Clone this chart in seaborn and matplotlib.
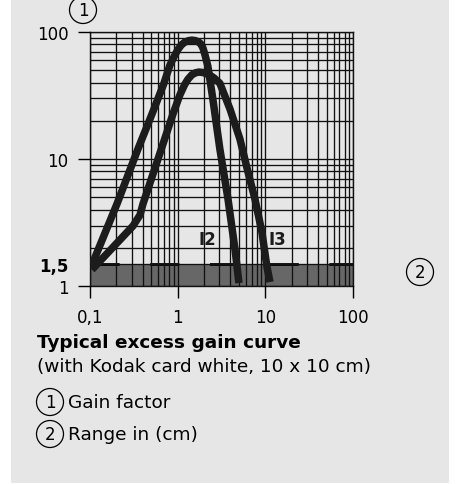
import matplotlib
matplotlib.use("Agg")
import matplotlib.pyplot as plt
from matplotlib.patches import Rectangle
from matplotlib.ticker import LogLocator, NullFormatter
import seaborn as sns

# Gain curves (range in cm, gain factor)
i2_x = [0.105, 0.203, 0.352, 0.509, 0.692, 0.817, 0.92, 1.01, 1.1, 1.2, 1.33,
        1.456, 1.6, 1.75, 1.85, 1.94, 2.05, 2.21, 2.52, 3.03, 3.75, 4.5, 5.0]
i2_y = [1.47, 4.44, 12.0, 22.6, 38.9, 55.0, 65.0, 73.0, 79.0, 83.0, 85.5,
        86.3, 85.5, 83.0, 80.0, 75.0, 66.0, 53.9, 29.7, 12.0, 4.86, 1.97, 1.06]

i3_x = [0.105, 0.309, 0.372, 0.402, 0.596, 0.883, 1.06, 1.2, 1.31, 1.45,
        1.6, 1.75, 1.95, 2.3, 2.6, 3.03, 3.95, 5.13, 6.34, 7.61, 9.14, 10.4,
        11.3]
i3_y = [1.35, 2.98, 3.64, 4.44, 10.0, 22.6, 32.0, 38.5, 42.5, 46.0,
        47.8, 48.4, 48.0, 46.0, 43.5, 39.5, 24.8, 14.4, 7.92, 4.86, 2.67, 1.44,
        1.08]

x_ticks = [0.1, 1, 10, 100]
x_labels = ["0,1", "1", "10", "100"]
y_ticks = [1, 1.5, 10, 100]
y_labels = ["1", "1,5", "10", "100"]
min_gain = 1.5
curve_names = ["I2", "I3"]
name_pos = [(2.21, 2.35), (13.9, 2.35)]

sns.set_style("white")
plt.rcParams["font.family"] = ["DejaVu Sans"]
plt.rcParams["text.color"] = "black"
plt.rcParams["xtick.color"] = "black"
plt.rcParams["ytick.color"] = "black"

fig = plt.figure(figsize=(4.61, 4.85), dpi=100)
fig.patches.append(Rectangle((11 / 461, 1 / 485), 438 / 461, 484 / 485,
                             transform=fig.transFigure, fc="#e6e6e6",
                             ec="none", zorder=-10))
ax = fig.add_axes([90 / 461, 1 - 287.3 / 485, 263 / 461, 254.3 / 485])
ax.set_facecolor("none")
ax.set_xscale("log")
ax.set_yscale("log")
ax.set_xlim(0.1, 100)
ax.set_ylim(1, 100)

# shaded band below the minimum gain + dashed limit line
ax.axhspan(1, min_gain, color="#676767", lw=0, zorder=0)
ax.plot([x_ticks[0], x_ticks[-1]], [min_gain, min_gain], color="black",
        lw=2.0, linestyle=(0, (10.5, 11)), dash_capstyle="butt", zorder=2.5)

# grid
ax.xaxis.set_minor_locator(LogLocator(base=10, subs=range(2, 10)))
ax.yaxis.set_minor_locator(LogLocator(base=10, subs=range(2, 10)))
ax.xaxis.set_minor_formatter(NullFormatter())
ax.yaxis.set_minor_formatter(NullFormatter())
ax.grid(True, which="both", color="#111111", lw=0.95, zorder=1)
ax.set_axisbelow(False)

for xs, ys in [(i2_x, i2_y), (i3_x, i3_y)]:
    sns.lineplot(x=xs, y=ys, ax=ax, color="#1c1c1c", lw=5.4, sort=False,
                 estimator=None, solid_capstyle="butt",
                 solid_joinstyle="round", zorder=3)

for name, (px, py) in zip(curve_names, name_pos):
    ax.text(px, py, name, ha="center", va="center", fontsize=12,
            fontweight="bold", color="#1c1c1c", zorder=4)

ax.set_xticks(x_ticks)
ax.set_xticklabels(x_labels)
ax.set_yticks(y_ticks)
ax.set_yticklabels(y_labels)
ax.tick_params(which="major", direction="out", length=8.5, width=1,
               color="black", labelcolor="black", labelsize=12, pad=7,
               left=True, bottom=True)
ax.tick_params(which="minor", length=0)
ax.yaxis.get_major_ticks()[1].tick1line.set_visible(False)
ax.get_yticklabels()[1].set_fontweight("bold")
for s in ax.spines.values():
    s.set_color("#111111")
    s.set_linewidth(1)

circle = dict(boxstyle="circle,pad=0.27", fc="none", ec="black", lw=0.9)
fig.text(83 / 461, 1 - 11 / 485, "1", ha="center", va="center", fontsize=12,
         bbox=circle)
fig.text(420 / 461, 1 - 273 / 485, "2", ha="center", va="center", fontsize=12,
         bbox=circle)

fig.text(37 / 461, 1 - 343 / 485, "Typical excess gain curve", ha="left",
         va="center", fontsize=13.3, fontweight="bold")
fig.text(37 / 461, 1 - 367 / 485, "(with Kodak card white, 10 x 10 cm)",
         ha="left", va="center", fontsize=13.3)
fig.text(50 / 461, 1 - 403 / 485, "1", ha="center", va="center", fontsize=12,
         bbox=circle)
fig.text(68 / 461, 1 - 403 / 485, "Gain factor", ha="left", va="center",
         fontsize=13.3)
fig.text(50 / 461, 1 - 435 / 485, "2", ha="center", va="center", fontsize=12,
         bbox=circle)
fig.text(68 / 461, 1 - 435 / 485, "Range in (cm)", ha="left", va="center",
         fontsize=13.3)

fig.savefig("out.png", dpi=100, facecolor="white")
